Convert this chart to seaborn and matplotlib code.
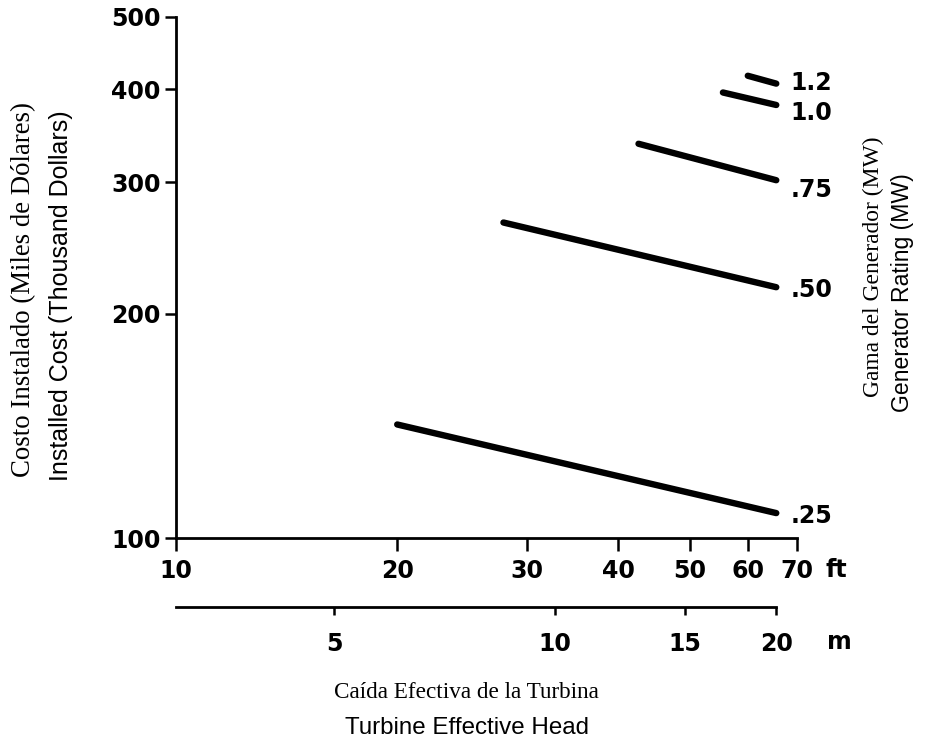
import numpy as np
import pandas as pd
import matplotlib
matplotlib.use("Agg")
import matplotlib.pyplot as plt
from matplotlib.ticker import FixedLocator, NullLocator, FixedFormatter
import seaborn as sns

# Generator rating curves: installed cost vs. effective head (log-log)
ratings = [".25", ".50", ".75", "1.0", "1.2"]
head_start_ft = [20.0, 27.9, 42.6, 55.5, 60.0]
head_end_ft = [65.6, 65.6, 65.6, 65.6, 65.6]
cost_start = [142, 265, 338, 396, 417]
cost_end = [108, 217, 302, 381, 407]
label_cost = [107, 215, 293, 372, 408]

ft_ticks = [10, 20, 30, 40, 50, 60, 70]
m_ticks = [5, 10, 15, 20]
cost_ticks = [100, 200, 300, 400, 500]

df = pd.DataFrame({
    "rating": np.repeat(ratings, 2),
    "head": np.ravel(np.column_stack([head_start_ft, head_end_ft])),
    "cost": np.ravel(np.column_stack([cost_start, cost_end])),
})

sns.set_theme(style="ticks")
plt.rcParams["font.family"] = ["DejaVu Sans"]
plt.rcParams["text.color"] = "black"

W, H = 926, 747
fig = plt.figure(figsize=(W / 100, H / 100), dpi=100)
L, R, B, T = 176, 797, 538, 17
ax = fig.add_axes([L / W, 1 - B / H, (R - L) / W, (B - T) / H])
ax.set_xscale("log")
ax.set_yscale("log")

sns.lineplot(data=df, x="head", y="cost", hue="rating",
             palette=["black"] * len(ratings), estimator=None, sort=False,
             lw=4.6, solid_capstyle="round", legend=False, ax=ax)

ax.set_xlim(10, 70)
ax.set_ylim(100, 500)
ax.set_xlabel("")
ax.set_ylabel("")

for s in ["top", "right"]:
    ax.spines[s].set_visible(False)
for s in ["left", "bottom"]:
    ax.spines[s].set_linewidth(2.0)
    ax.spines[s].set_color("black")

FS = 17
tick_font = dict(fontsize=FS, fontweight="bold", color="black")

ax.xaxis.set_major_locator(FixedLocator(ft_ticks))
ax.xaxis.set_major_formatter(FixedFormatter([str(t) for t in ft_ticks]))
ax.xaxis.set_minor_locator(NullLocator())
ax.yaxis.set_major_locator(FixedLocator(cost_ticks))
ax.yaxis.set_major_formatter(FixedFormatter([str(t) for t in cost_ticks]))
ax.yaxis.set_minor_locator(NullLocator())
ax.tick_params(axis="x", direction="out", length=9, width=1.8, pad=6,
               labelsize=FS, colors="black")
ax.tick_params(axis="y", direction="out", length=8, width=1.8, pad=3,
               labelsize=FS, colors="black")
for lab in ax.get_xticklabels() + ax.get_yticklabels():
    lab.set_fontweight("bold")

# Metric head scale below the feet scale
def ft_to_m(x):
    return np.asarray(x) * 0.3048

def m_to_ft(x):
    return np.asarray(x) / 0.3048

secax = ax.secondary_xaxis((B - 607) / (B - T), functions=(ft_to_m, m_to_ft))
secax.xaxis.set_major_locator(FixedLocator(m_ticks))
secax.xaxis.set_major_formatter(FixedFormatter([str(t) for t in m_ticks]))
secax.xaxis.set_minor_locator(NullLocator())
secax.tick_params(axis="x", direction="out", length=6, width=1.8, pad=12,
                  labelsize=FS, colors="black")
for lab in secax.get_xticklabels():
    lab.set_fontweight("bold")
secax.spines["bottom"].set_linewidth(2.0)
secax.spines["bottom"].set_color("black")
secax.spines["bottom"].set_bounds(10 * 0.3048, 20)

# Rating labels at the right end of each curve
for r, c in zip(ratings, label_cost):
    ax.text(68.6, c, r, ha="left", va="center", **tick_font)

fig.text(826 / W, 1 - 570 / H, "ft", ha="left", va="center", **tick_font)
fig.text(827 / W, 1 - 642 / H, "m", ha="left", va="center", **tick_font)

# Bilingual axis titles
serif = "Liberation Serif"
sans = "Liberation Sans"
title_kw = dict(ha="center", va="center", color="black")
fig.text(24 / W, 1 - 290 / H, "Costo Instalado (Miles de Dólares)",
         rotation=90, fontsize=19.3, family=serif, **title_kw)
fig.text(61 / W, 1 - 296 / H, "Installed Cost (Thousand Dollars)",
         rotation=90, fontsize=18, family=sans, **title_kw)
fig.text(873 / W, 1 - 267 / H, "Gama del Generador (MW)",
         rotation=90, fontsize=16.9, family=serif, **title_kw)
fig.text(903 / W, 1 - 293 / H, "Generator Rating (MW)",
         rotation=90, fontsize=16.6, family=sans, **title_kw)
fig.text(466 / W, 1 - 693 / H, "Caída Efectiva de la Turbina",
         fontsize=16.7, family=serif, **title_kw)
fig.text(467 / W, 1 - 728 / H, "Turbine Effective Head",
         fontsize=17.4, family=sans, **title_kw)

fig.savefig("out.png", dpi=100, facecolor="white")
